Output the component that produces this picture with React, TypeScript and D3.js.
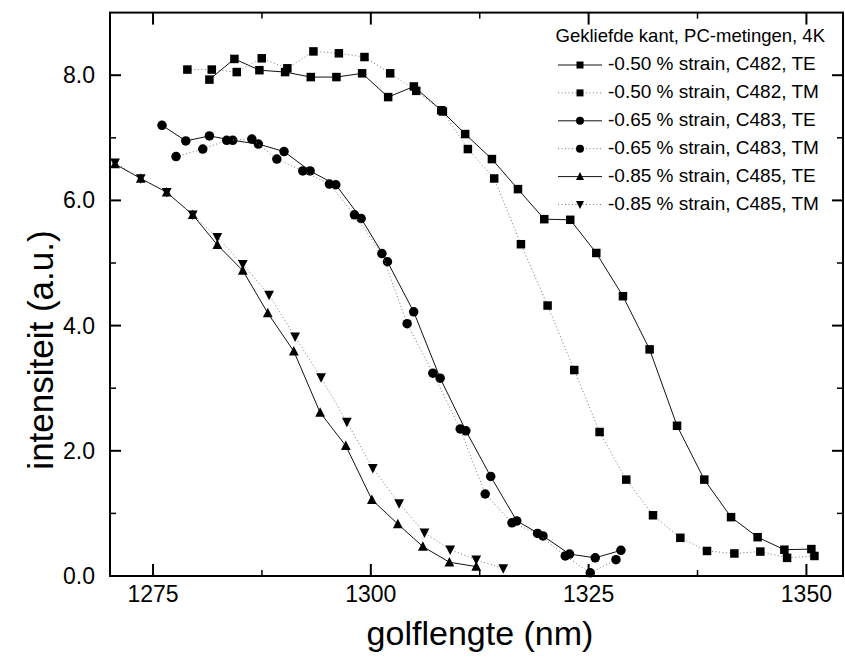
import React from "react";
import * as d3 from "d3";

type Pt = [number, number];

const sqTE: Pt[] = [
  [1281.47, 7.93], [1284.34, 8.26], [1287.21, 8.08], [1290.16, 8.05], [1293.11, 7.97],
  [1296.05, 7.97], [1299.0, 8.03], [1301.99, 7.65], [1304.94, 7.82], [1308.08, 7.44],
  [1310.83, 7.06], [1313.9, 6.66], [1316.89, 6.18], [1319.91, 5.7], [1322.89, 5.69],
  [1325.88, 5.16], [1328.94, 4.47], [1332.0, 3.62], [1335.15, 2.4], [1338.28, 1.54],
  [1341.35, 0.94], [1344.4, 0.62], [1347.47, 0.42], [1350.57, 0.43],
];
const sqTM: Pt[] = [
  [1278.94, 8.09], [1281.74, 8.09], [1284.61, 8.05], [1287.48, 8.27], [1290.42, 8.11],
  [1293.41, 8.38], [1296.33, 8.35], [1299.27, 8.29], [1302.22, 8.03], [1305.21, 7.75],
  [1308.27, 7.42], [1311.14, 6.82], [1314.16, 6.35], [1317.23, 5.3], [1320.29, 4.32],
  [1323.35, 3.29], [1326.26, 2.3], [1329.32, 1.54], [1332.39, 0.97], [1335.53, 0.61],
  [1338.59, 0.4], [1341.73, 0.36], [1344.71, 0.39], [1347.78, 0.29], [1350.92, 0.32],
];
const ciTE: Pt[] = [
  [1276.03, 7.2], [1278.76, 6.95], [1281.47, 7.03], [1284.15, 6.96], [1287.09, 6.9],
  [1290.04, 6.78], [1293.03, 6.47], [1295.98, 6.25], [1298.89, 5.71], [1301.91, 5.02],
  [1304.92, 4.22], [1307.96, 3.16], [1310.91, 2.32], [1313.76, 1.59], [1316.75, 0.88],
  [1319.76, 0.64], [1322.81, 0.35], [1325.76, 0.29], [1328.71, 0.41],
];
const ciTM: Pt[] = [
  [1277.64, 6.7], [1280.71, 6.82], [1283.46, 6.96], [1286.34, 6.98], [1289.21, 6.66],
  [1292.19, 6.47], [1295.25, 6.26], [1298.12, 5.77], [1301.27, 5.15], [1304.17, 4.03],
  [1307.12, 3.24], [1310.26, 2.35], [1313.13, 1.31], [1316.2, 0.85], [1319.14, 0.68],
  [1322.32, 0.32], [1325.19, 0.05], [1328.14, 0.26],
];
const trTE: Pt[] = [
  [1270.64, 6.58], [1273.59, 6.35], [1276.57, 6.13], [1279.56, 5.77], [1282.38, 5.29],
  [1285.3, 4.88], [1288.17, 4.2], [1291.16, 3.59], [1294.18, 2.61], [1297.13, 2.08],
  [1300.12, 1.22], [1303.1, 0.83], [1305.97, 0.47], [1309.02, 0.22], [1312.1, 0.15],
];
const trTM: Pt[] = [
  [1270.64, 6.6], [1273.59, 6.35], [1276.57, 6.13], [1279.56, 5.77], [1282.38, 5.41],
  [1285.3, 4.98], [1288.32, 4.49], [1291.31, 3.82], [1294.29, 3.17], [1297.25, 2.46],
  [1300.23, 1.72], [1303.25, 1.16], [1306.16, 0.69], [1309.11, 0.42], [1312.1, 0.26],
  [1315.2, 0.12],
];

const seriesNames = [
  "-0.50 % strain, C482, TE",
  "-0.50 % strain, C482, TM",
  "-0.65 % strain, C483, TE",
  "-0.65 % strain, C483, TM",
  "-0.85 % strain, C485, TE",
  "-0.85 % strain, C485, TM",
];
const seriesData = [sqTE, sqTM, ciTE, ciTM, trTE, trTM];
const seriesSymbols = ["square", "square", "circle", "circle", "up", "down"];
const seriesSolid = [true, false, true, false, true, false];

const xMajor = [1275, 1300, 1325, 1350];
const xMinor = [1287.5, 1312.5, 1337.5];
const yMajor = [0, 2, 4, 6, 8];
const yMinor = [1, 3, 5, 7];
const legendTitle = "Gekliefde kant, PC-metingen, 4K";
const xTitle = "golflengte (nm)";
const yTitle = "intensiteit (a.u.)";

const L = 110, R = 843, T = 12.6, B = 576;
const x = d3.scaleLinear().domain([1270.06, 1354.2]).range([L, R]);
const y = d3.scaleLinear().domain([0, 9]).range([B, T]);

function Marker({ kind, cx, cy, s }: { kind: string; cx: number; cy: number; s: number }) {
  if (kind === "square") return <rect x={cx - s / 2} y={cy - s / 2} width={s} height={s} fill="#000" />;
  if (kind === "circle") return <circle cx={cx} cy={cy} r={s / 2 + 0.5} fill="#000" />;
  const h = s * 1.0;
  const w = s * 1.15;
  if (kind === "up")
    return <path d={`M${cx},${cy - h / 2 - 1}L${cx + w / 2},${cy + h / 2}L${cx - w / 2},${cy + h / 2}Z`} fill="#000" />;
  return <path d={`M${cx},${cy + h / 2 + 1}L${cx + w / 2},${cy - h / 2}L${cx - w / 2},${cy - h / 2}Z`} fill="#000" />;
}

export default function App() {
  const line = d3.line<Pt>().x((d) => x(d[0])).y((d) => y(d[1]));
  const font = "'Liberation Sans', Arial, sans-serif";
  return (
    <svg width={845} height={661} style={{ position: "absolute", left: 0, top: 0, background: "#fff" }} fontFamily={font}>
      <rect x={0} y={0} width={845} height={661} fill="#fff" />
      {seriesData.map((data, i) => (
        <g key={i}>
          <path
            d={line(data) || ""}
            fill="none"
            stroke={seriesSolid[i] ? "#111" : "#777"}
            strokeWidth={1}
            strokeDasharray={seriesSolid[i] ? undefined : "1,2.5"}
          />
          {data.map((d, j) => (
            <Marker key={j} kind={seriesSymbols[i]} cx={x(d[0])} cy={y(d[1])} s={8.5} />
          ))}
        </g>
      ))}
      <rect x={L} y={T} width={R - L} height={B - T} fill="none" stroke="#000" strokeWidth={2} />
      {xMajor.map((v) => (
        <g key={"xm" + v}>
          <line x1={x(v)} x2={x(v)} y1={B} y2={B - 12} stroke="#000" strokeWidth={2} />
          <line x1={x(v)} x2={x(v)} y1={T} y2={T + 12} stroke="#000" strokeWidth={2} />
          <text x={x(v)} y={602} textAnchor="middle" fontSize={23}>{v}</text>
        </g>
      ))}
      {xMinor.map((v) => (
        <g key={"xn" + v}>
          <line x1={x(v)} x2={x(v)} y1={B} y2={B - 6} stroke="#000" strokeWidth={1.5} />
          <line x1={x(v)} x2={x(v)} y1={T} y2={T + 6} stroke="#000" strokeWidth={1.5} />
        </g>
      ))}
      {yMajor.map((v) => (
        <g key={"ym" + v}>
          <line x1={L} x2={L + 11} y1={y(v)} y2={y(v)} stroke="#000" strokeWidth={2} />
          <line x1={R} x2={R - 11} y1={y(v)} y2={y(v)} stroke="#000" strokeWidth={2} />
          <text x={95} y={y(v) + 8} textAnchor="end" fontSize={23}>{v.toFixed(1)}</text>
        </g>
      ))}
      {yMinor.map((v) => (
        <g key={"yn" + v}>
          <line x1={L} x2={L + 6} y1={y(v)} y2={y(v)} stroke="#000" strokeWidth={1.5} />
          <line x1={R} x2={R - 6} y1={y(v)} y2={y(v)} stroke="#000" strokeWidth={1.5} />
        </g>
      ))}
      <text x={480} y={645} textAnchor="middle" fontSize={34}>{xTitle}</text>
      <text transform={`translate(53,350) rotate(-90)`} textAnchor="middle" fontSize={35}>{yTitle}</text>
      <text x={825} y={42} textAnchor="end" fontSize={18.5}>{legendTitle}</text>
      {seriesNames.map((name, i) => {
        const by = 70 + i * 27.9;
        const my = by - 5;
        return (
          <g key={name}>
            <line
              x1={558}
              x2={602}
              y1={my}
              y2={my}
              stroke={seriesSolid[i] ? "#111" : "#777"}
              strokeWidth={1}
              strokeDasharray={seriesSolid[i] ? undefined : "1,2.5"}
            />
            <Marker kind={seriesSymbols[i]} cx={580} cy={my} s={7} />
            <text x={608} y={by} fontSize={19}>{name}</text>
          </g>
        );
      })}
    </svg>
  );
}
